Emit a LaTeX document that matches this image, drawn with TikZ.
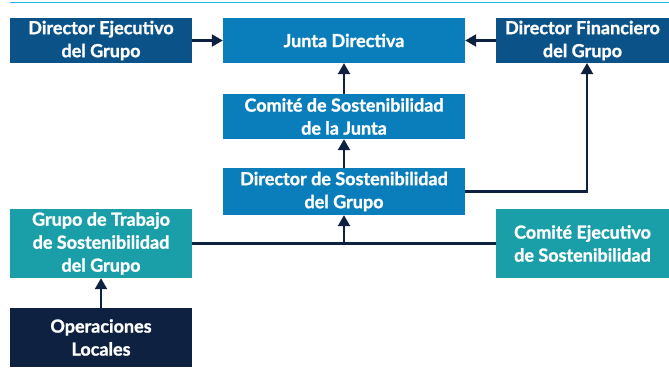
\documentclass[tikz,border=0pt]{standalone}
\usepackage{fontspec}
\setmainfont{Lato}[BoldFeatures={FakeBold=1.3}]
\usetikzlibrary{arrows.meta}

\definecolor{execblue}{HTML}{0B5288}
\definecolor{boardblue}{HTML}{0A7DBB}
\definecolor{teamteal}{HTML}{1A9EA8}
\definecolor{navy}{HTML}{0E2140}
\definecolor{rulecyan}{HTML}{2BB3E6}

\begin{document}
\begin{tikzpicture}[
    x=1pt, y=-1pt,
    font=\bfseries\fontsize{18}{23}\selectfont,
    box/.style={text=white, align=center, inner sep=0pt, minimum height=45pt},
    exec/.style={box, fill=execblue},
    board/.style={box, fill=boardblue},
    team/.style={box, fill=teamteal, minimum height=69pt},
    local/.style={box, fill=navy, minimum height=59pt},
    line/.style={draw=navy, line width=2.2pt},
    link/.style={line, -{Triangle[length=11pt,width=12pt]}}
]
\useasboundingbox (0,0) rectangle (669,367);

% top rule
\draw[rulecyan, line width=1.5pt] (10,2.5) -- (669,2.5);

% boxes
\node[exec, minimum width=182pt] (ceo) at (101,40.5) {Director Ejecutivo\\del Grupo};
\node[board, minimum width=242pt] (junta) at (344,40.5) {Junta Directiva};
\node[exec, minimum width=173pt] (cfo) at (582.5,40.5) {Director Financiero\\del Grupo};
\node[board, minimum width=242pt] (comite) at (344,116.5) {Comité de Sostenibilidad\\de la Junta};
\node[board, minimum width=242pt, minimum height=47pt] (dirsost) at (344,191.5) {Director de Sostenibilidad\\del Grupo};
\node[team, minimum width=182pt] (grupo) at (101,243.5) {Grupo de Trabajo\\de Sostenibilidad\\del Grupo};
\node[team, minimum width=173pt] (comejec) at (582.5,243.5) {Comité Ejecutivo\\de Sostenibilidad};
\node[local, minimum width=182pt] (ops) at (101,337.5) {Operaciones\\Locales};

\coordinate (finfoot) at (587,63);

% connectors
\draw[link] (ceo) -- (junta);
\draw[link] (cfo) -- (junta);
\draw[link] (comite) -- (junta);
\draw[link] (dirsost) -- (comite);
\draw[link] (dirsost.east) -| (finfoot);
\draw[line] (grupo.east) -- (comejec.west);
\draw[link] (dirsost.south |- grupo.east) -- (dirsost.south);
\draw[link] (ops) -- (grupo);

\end{tikzpicture}
\end{document}
